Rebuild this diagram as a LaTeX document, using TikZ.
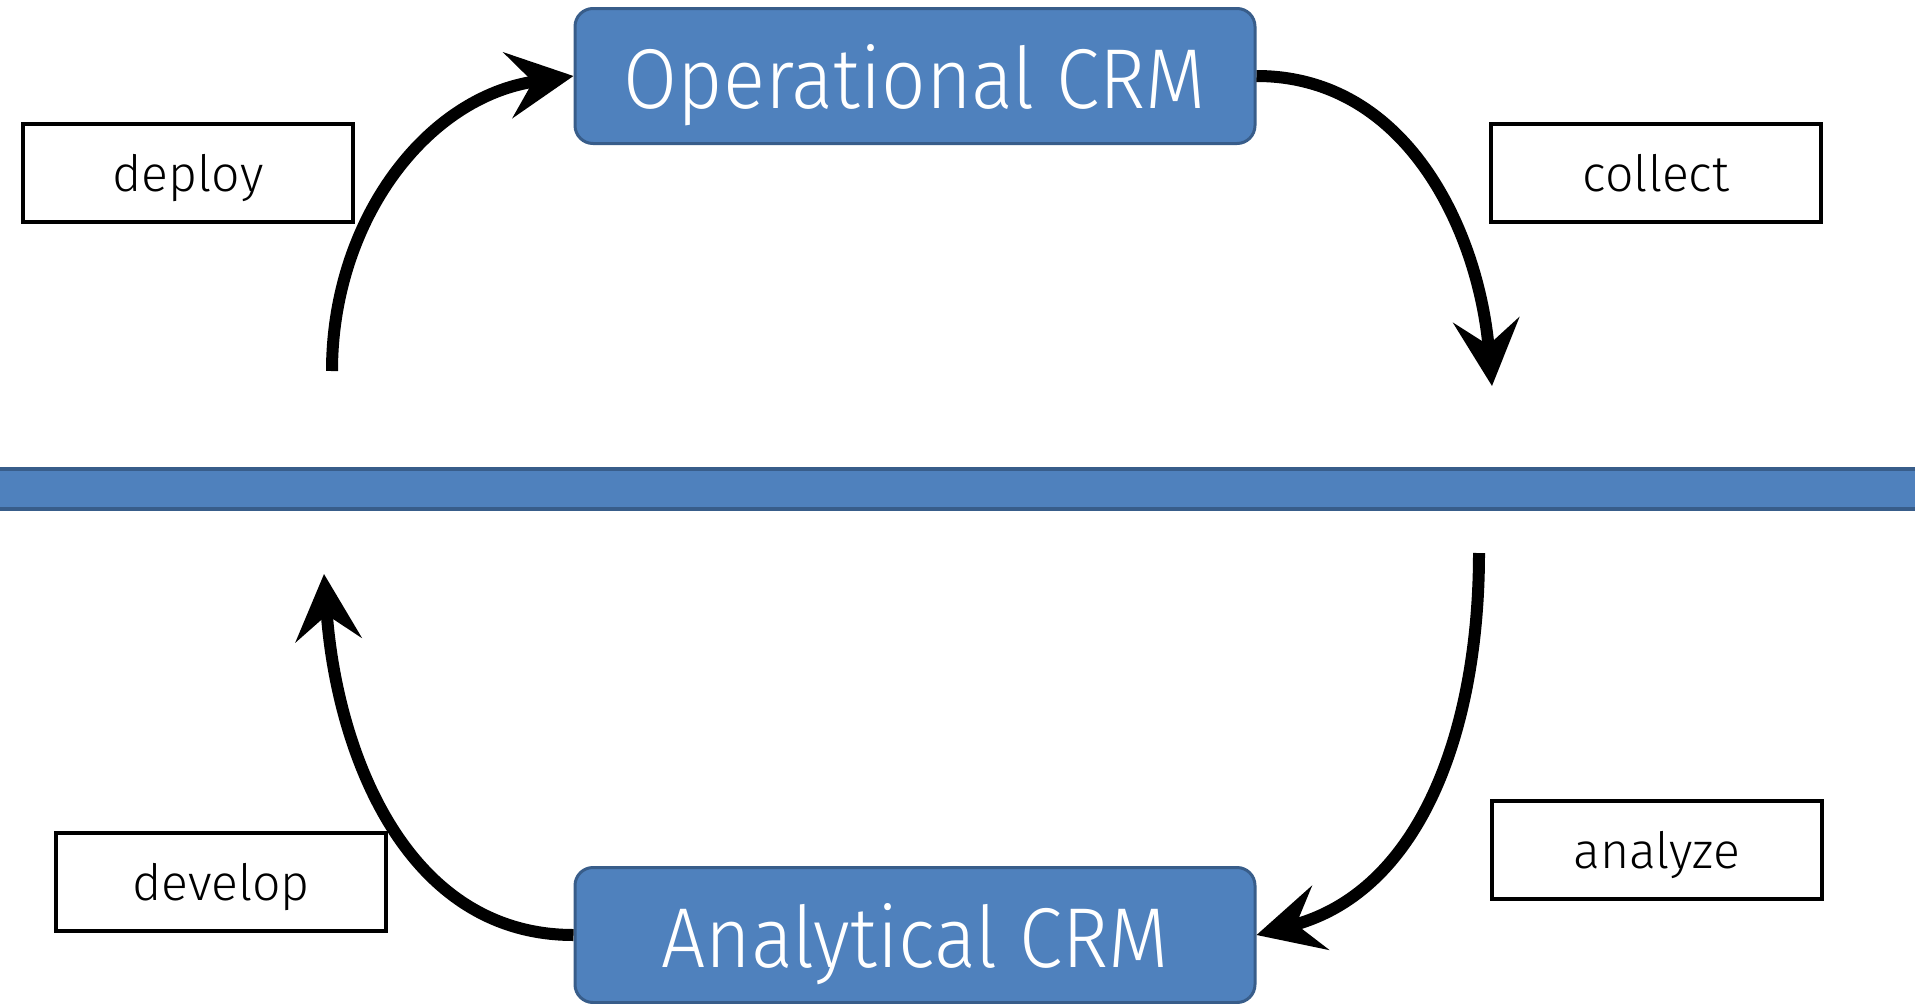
\documentclass[tikz,border=0pt]{standalone}
\usepackage{fontspec}
\setmainfont{Fira Sans}[UprightFont=* Light]
\newfontfamily\crmfont{Fira Sans}[UprightFont=* Light, FakeStretch=0.92]
\usetikzlibrary{arrows.meta, positioning}
\definecolor{crmblue}{RGB}{79,129,189}
\definecolor{crmedge}{RGB}{56,93,138}

\begin{document}
\begin{tikzpicture}[x=1pt, y=-1pt,
    >={Stealth[length=66pt, width=66pt, inset=25pt]},
    crm/.style={draw=crmedge, line width=3pt, fill=crmblue, rounded corners=18pt,
                minimum width=680pt, minimum height=135pt, text=white, text depth=0pt,
                font=\crmfont\fontsize{85}{90}\selectfont},
    tag/.style={draw, line width=4pt, minimum width=330pt, minimum height=98pt,
                text depth=0pt, font=\fontsize{50}{60}\selectfont},
    flow/.style={->, line width=12pt}]
  \useasboundingbox (0,0) rectangle (1915,1004);

  \node[draw=crmedge, line width=4pt, fill=crmblue, minimum width=1925pt,
        minimum height=40pt, inner sep=0pt] (bar) at (957,489) {};

  \node[crm] (ops) at (915,76) {Operational CRM};
  \node[crm] (ana) at (915,935) {Analytical CRM};

  \node[tag] (deploy) at (188,173) {deploy};
  \node[tag] (collect) at (1656,173) {collect};
  \node[tag] (analyze) at (1657,850) {analyze};
  \node[tag] (develop) at (221,882) {develop};

  \coordinate (deploystart) at (332,371);
  \coordinate (collectend) at (1492,386);
  \coordinate (analyzestart) at (1479,553);
  \coordinate (developend) at (324,574);

  \draw[flow] (deploystart) to[out=90, in=188] (ops.west);
  \draw[flow] (ops.east) to[out=0, in=95] (collectend);
  \draw[flow] (analyzestart) to[out=270, in=15] (ana.east);
  \draw[flow] (ana.west) to[out=180, in=274] (developend);
\end{tikzpicture}
\end{document}
